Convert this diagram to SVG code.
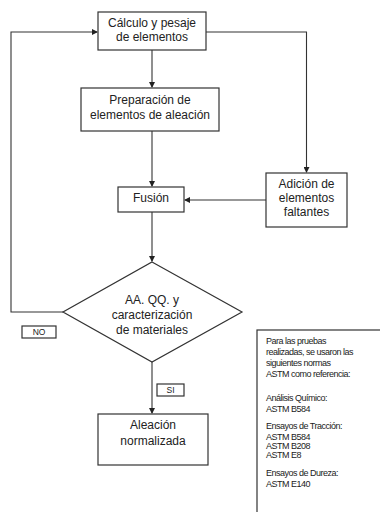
<svg xmlns="http://www.w3.org/2000/svg" width="380" height="512" viewBox="0 0 380 512">
<defs>
<marker id="ah" markerWidth="6" markerHeight="6" refX="5" refY="3" orient="auto" markerUnits="userSpaceOnUse">
<path d="M0,0 L6,3 L0,6 Z" fill="#222"/>
</marker>
<style>
.box{fill:#fff;stroke:#333;stroke-width:1.2}
.ln{fill:none;stroke:#333;stroke-width:1.1}
.t{font-family:"Liberation Sans",Arial,sans-serif;font-size:12px;fill:#222;text-anchor:middle}
.s{font-family:"Liberation Sans",Arial,sans-serif;font-size:8.5px;fill:#222;text-anchor:middle}
.n{font-family:"Liberation Sans",Arial,sans-serif;font-size:9px;fill:#222;letter-spacing:-0.5px}
</style>
</defs>
<rect width="380" height="512" fill="#fff"/>
<g id="connectors">
<path class="ln" d="M152,50 V87" marker-end="url(#ah)"/>
<path class="ln" d="M152,131 V186" marker-end="url(#ah)"/>
<path class="ln" d="M206,32 H306.5 V172" marker-end="url(#ah)"/>
<path class="ln" d="M266,200 H185" marker-end="url(#ah)"/>
<path class="ln" d="M152,212 V261" marker-end="url(#ah)"/>
<path class="ln" d="M63,312 H11 V32 H97" marker-end="url(#ah)"/>
<path class="ln" d="M152,362 V413" marker-end="url(#ah)"/>
</g>
<g id="calculo">
<rect class="box" x="98" y="12" width="108" height="38"/>
<text class="t" x="152" y="27">Cálculo y pesaje</text>
<text class="t" x="152" y="41">de elementos</text>
</g>
<g id="preparacion">
<rect class="box" x="81" y="88" width="138" height="43"/>
<text class="t" x="150" y="104">Preparación de</text>
<text class="t" x="150" y="118.5">elementos de aleación</text>
</g>
<g id="fusion">
<rect class="box" x="118" y="187" width="66" height="25"/>
<text class="t" x="151" y="202">Fusión</text>
</g>
<g id="adicion">
<rect class="box" x="266" y="173" width="81" height="54"/>
<text class="t" x="306.5" y="188">Adición de</text>
<text class="t" x="306.5" y="202">elementos</text>
<text class="t" x="306.5" y="215.5">faltantes</text>
</g>
<g id="decision">
<polygon class="box" points="152,262 242,312 152,362 63,312"/>
<text class="t" x="152" y="304">AA. QQ. y</text>
<text class="t" x="152" y="319">caracterización</text>
<text class="t" x="152" y="333.5">de materiales</text>
</g>
<g id="no">
<rect class="box" x="22" y="326" width="34" height="12"/>
<text class="s" x="39" y="335">NO</text>
</g>
<g id="si">
<rect class="box" x="157" y="384" width="27" height="12"/>
<text class="s" x="170.5" y="393">SI</text>
</g>
<g id="aleacion">
<rect class="box" x="98" y="414" width="110" height="51"/>
<text class="t" x="153" y="428.5">Aleación</text>
<text class="t" x="153" y="445">normalizada</text>
</g>
<g id="nota">
<rect class="box" x="257" y="330" width="130" height="190"/>
<text class="n" x="266" y="344">Para las pruebas</text>
<text class="n" x="266" y="355">realizadas, se usaron las</text>
<text class="n" x="266" y="366">siguientes normas</text>
<text class="n" x="266" y="376.5">ASTM como referencia:</text>
<text class="n" x="266" y="400.5">Análisis Químico:</text>
<text class="n" x="266" y="412">ASTM B584</text>
<text class="n" x="266" y="429">Ensayos de Tracción:</text>
<text class="n" x="266" y="439.5">ASTM B584</text>
<text class="n" x="266" y="449">ASTM B208</text>
<text class="n" x="266" y="458">ASTM E8</text>
<text class="n" x="266" y="475.5">Ensayos de Dureza:</text>
<text class="n" x="266" y="487">ASTM E140</text>
</g>
</svg>
